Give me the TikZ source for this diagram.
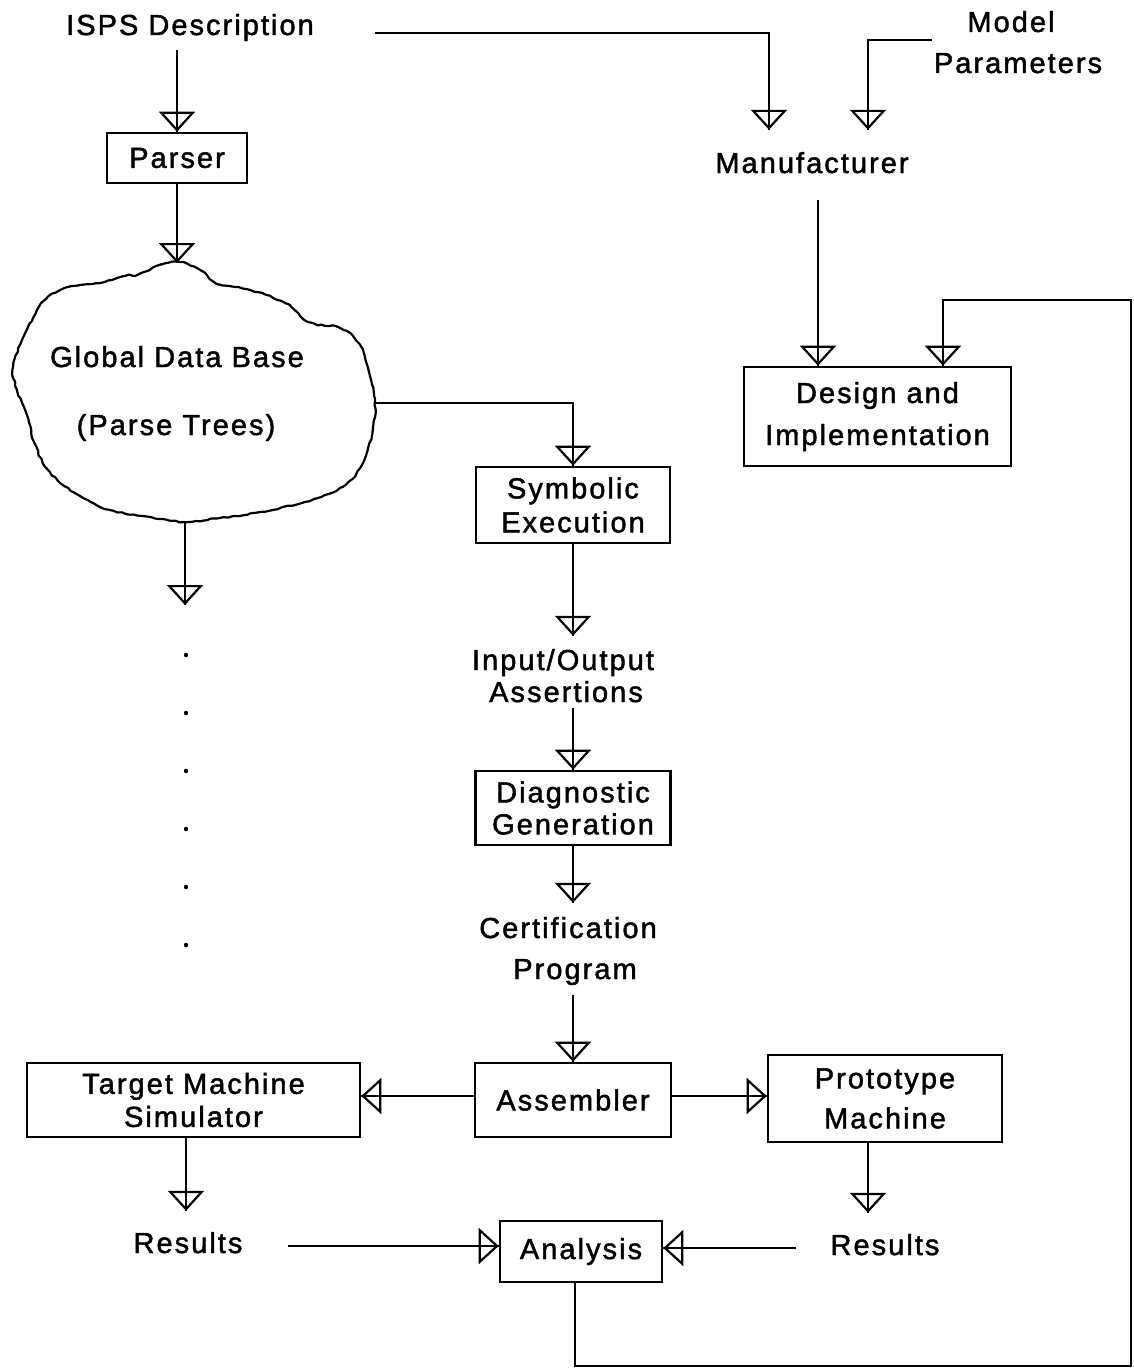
\documentclass[tikz,border=0pt]{standalone}
\usepackage{fontspec}
\setmainfont{Liberation Sans}[LetterSpace=7,FakeBold=1.6]
\usetikzlibrary{arrows.meta,decorations.pathmorphing,calc}
\newcommand\diafont{\fontsize{29}{30}\selectfont}
\tikzset{
  box/.style={draw, line width=2.6pt, inner sep=0pt, align=center, font=\diafont},
  txt/.style={inner sep=0pt, anchor=base, font=\diafont, text height=20pt, text depth=6pt},
  flow/.style={line width=2.2pt,
    -{Triangle[open,length=20pt,width=36pt,line width=2.2pt]},
    postaction={draw, line width=2.2pt, arrows=-}},
}
\begin{document}
\begin{tikzpicture}[x=1pt,y=-1pt]
\useasboundingbox (0,0) rectangle (1134,1370);
\pgfmathsetseed{7}

% free text labels
\node[txt] (isps)   at (190,35)   {ISPS Description};
\node[txt] (model)  at (1011,32)  {Model};
\node[txt] (params) at (1018,73)  {Parameters};
\node[txt] (manu)   at (812,173)  {Manufacturer};
\node[txt] (gdb1)   at (177,367)  {Global Data Base};
\node[txt] (gdb2)   at (176,435)  {(Parse Trees)};
\node[txt] (io1)    at (563,670)  {Input/Output};
\node[txt] (io2)    at (566,702)  {Assertions};
\node[txt] (cert1)  at (568,938)  {Certification};
\node[txt] (cert2)  at (575,979)  {Program};
\node[txt] (res1)   at (188,1253) {Results};
\node[txt] (res2)   at (885,1255) {Results};

% boxes
\node[box, minimum width=140pt, minimum height=50pt] (parser) at (177,158) {Parser};
\node[box, minimum width=194pt, minimum height=76pt] (symb) at (573,505) {Symbolic\\[4pt]Execution};
\node[box, minimum width=195pt, minimum height=74pt] (diag) at (573,808) {Diagnostic\\[2pt]Generation};
\node[box, minimum width=196pt, minimum height=74pt] (asm) at (573,1100) {Assembler};
\node[box, minimum width=333pt, minimum height=74pt] (sim) at (193.5,1100) {Target Machine\\[3pt]Simulator};
\node[box, minimum width=234pt, minimum height=87pt] (proto) at (885,1098.5) {Prototype\\[10pt]Machine};
\node[box, minimum width=267pt, minimum height=99pt] (design) at (877.5,416.5) {Design and\\[12pt]Implementation};
\node[box, minimum width=162pt, minimum height=61pt] (ana) at (581,1251.5) {Analysis};

% cloud outline of the global data base
\draw[line width=2.2pt, decorate,
      decoration={random steps,segment length=4pt,amplitude=0.8pt}, rounded corners=0.8pt]
  plot[smooth cycle, tension=0.6] coordinates {
    (137,275) (160,265) (178,262) (200,270) (218,284) (250,290) (285,303)
    (309,322) (340,328) (360,345) (369,372) (375,400) (372,435) (360,468)
    (340,488) (305,502) (260,512) (220,518) (185,522) (150,517) (110,510)
    (75,493) (48,470) (34,442) (28,418) (17,390) (13,368) (22,340) (33,318)
    (45,300) (68,287) (100,283) (125,276)};
\coordinate (cloudtop) at (177,263);
\coordinate (cloudR) at (375,403);
\coordinate (cloudB) at (185,522);
\coordinate (cloudout) at (185,605);

% continuation dots
\foreach \y in {655,713,771,829,887,945} \fill (186,\y) circle (2.2pt);

% free ends
\coordinate (ispsR) at (375,33);
\coordinate (mpL) at (932,40);
\coordinate (din1) at ([xshift=-59.5pt]design.north);
\coordinate (din2) at ([xshift=65.5pt]design.north);
\coordinate (loopA) at (1131,1366);
\coordinate (loopB) at (1131,300);

% connectors
\draw[flow, shorten <=9pt] (isps.south -| parser.north) -- (parser.north);
\draw[flow] (parser.south) -- (cloudtop);
\draw[flow, shorten >=23pt] (ispsR) -| ([xshift=-43pt]manu.north);
\draw[flow, shorten >=23pt] (mpL) -| ([xshift=56pt]manu.north);
\draw[flow, shorten <=21pt] (manu.south -| din1) -- (din1);
\draw[flow] ([xshift=-6pt]ana.south) |- (loopA) -- (loopB) -| (din2);
\draw[flow] (cloudR) -| (symb.north);
\draw[flow] (cloudB) -- (cloudout);
\draw[flow, shorten >=14pt] (symb.south) -- (symb.south |- io1.north);
\draw[flow] (diag.north |- io2.south) -- (diag.north);
\draw[flow, shorten >=15pt] (diag.south) -- (diag.south |- cert1.north);
\draw[flow, shorten <=10pt] (asm.north |- cert2.south) -- (asm.north);
\draw[flow] ([yshift=4pt]asm.west) -- ([yshift=4pt]asm.west -| sim.east);
\draw[flow] ([yshift=4pt]asm.east) -- ([yshift=4pt]asm.east -| proto.west);
\draw[flow, shorten >=22pt] ([xshift=-7.5pt]sim.south) -- ([xshift=-7.5pt]sim.south |- res1.north);
\draw[flow, shorten >=22pt] ([xshift=-17pt]proto.south) -- ([xshift=-17pt]proto.south |- res2.north);
\draw[flow, shorten <=45pt] (res1.east) -- (res1.east -| ana.west);
\draw[flow, shorten <=34pt] (res2.west) -- (res2.west -| ana.east);
\end{tikzpicture}
\end{document}
